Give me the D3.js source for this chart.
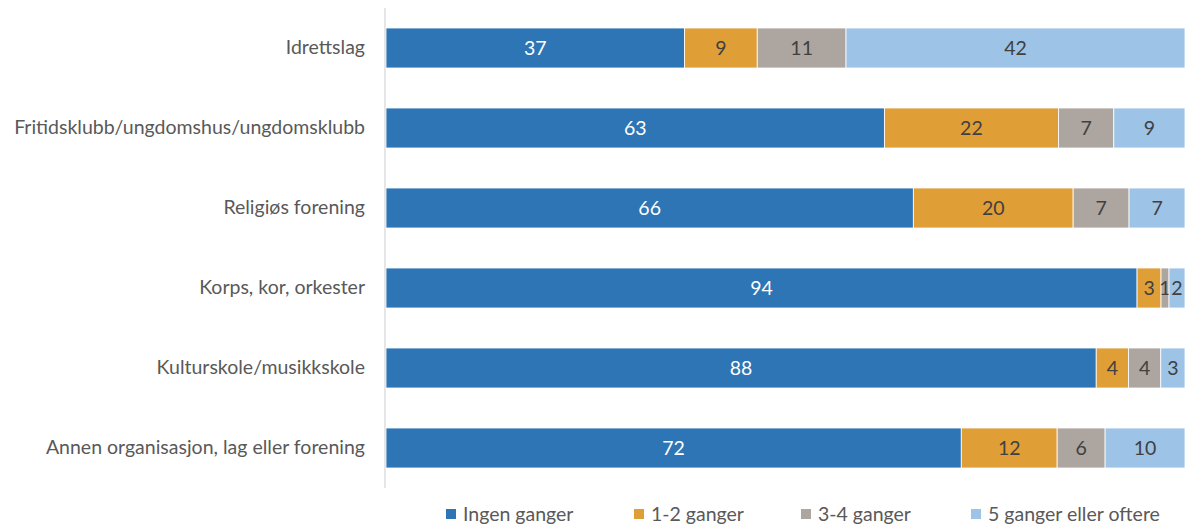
<!DOCTYPE html>
<html lang="no">
<head>
<meta charset="utf-8">
<title>Stacked bars</title>
<script src="https://d3js.org/d3.v7.min.js"></script>
<style>
  body { margin: 0; background: #fff; }
  text { font-family: Lato, "Open Sans", sans-serif; }
</style>
</head>
<body>
<div id="chart"></div>
<script>
// categories, top to bottom
var categories = [
  "Idrettslag",
  "Fritidsklubb/ungdomshus/ungdomsklubb",
  "Religiøs forening",
  "Korps, kor, orkester",
  "Kulturskole/musikkskole",
  "Annen organisasjon, lag eller forening"
]
var seriesNames = ["Ingen ganger", "1-2 ganger", "3-4 ganger", "5 ganger eller oftere"]
var ingen    = [37, 63, 66, 94, 88, 72]
var en_to    = [9, 22, 20, 3, 4, 12]
var tre_fire = [11, 7, 7, 1, 4, 6]
var fem      = [42, 9, 7, 2, 3, 10]
var colors = ["#2E75B6", "#E09F36", "#ADA59F", "#9DC3E6"]

var w = 1190, h = 527
var plotL = 386, plotR = 1185, plotT = 8, plotB = 488
var fs = 19.5

var rows = categories.map(function(c, i){
  return {cat: c, s0: ingen[i], s1: en_to[i], s2: tre_fire[i], s3: fem[i]}
})
var keys = ["s0", "s1", "s2", "s3"]
// 100% stacked, like the original
var stacked = d3.stack().keys(keys).offset(d3.stackOffsetExpand)(rows)

var x = d3.scaleLinear().domain([0, 1]).range([plotL, plotR])
var y = d3.scaleBand().domain(categories).range([plotT, plotB]).paddingInner(0.5).paddingOuter(0.25)

var svg = d3.select("#chart").append("svg").attr("width", w).attr("height", h)

var groups = svg.selectAll("g.series").data(stacked).enter().append("g")
  .attr("class", "series")
  .attr("fill", function(d, i){ return colors[i] })

groups.selectAll("rect").data(function(d){ return d }).enter().append("rect")
  .attr("x", function(d){ return x(d[0]) })
  .attr("y", function(d){ return y(d.data.cat) })
  .attr("width", function(d){ return x(d[1]) - x(d[0]) })
  .attr("height", y.bandwidth())
  .attr("stroke", "#fff")
  .attr("stroke-width", 0.8)

// value labels
groups.each(function(s, si){
  d3.select(this).selectAll("text").data(s).enter().append("text")
    .attr("x", function(d){ return (x(d[0]) + x(d[1])) / 2 })
    .attr("y", function(d){ return y(d.data.cat) + y.bandwidth() / 2 })
    .attr("dy", "0.35em")
    .attr("text-anchor", "middle")
    .attr("font-size", fs)
    .attr("fill", si == 0 ? "#fff" : "#404040")
    .text(function(d){ return d.data[s.key] })
})

// category axis
var yAxis = svg.append("g").attr("transform", "translate(" + (plotL - 1) + ",0)")
  .call(d3.axisLeft(y).tickSize(0).tickPadding(20))
yAxis.select(".domain").attr("stroke", "#d9d9d9").attr("stroke-width", 1.3)
  .attr("d", "M0," + plotT + "V" + plotB)
yAxis.selectAll("text").attr("font-size", fs).attr("fill", "#595959")
  .attr("font-family", "Lato, sans-serif")

// legend
var legX = [446, 634, 801, 971]
var leg = svg.selectAll("g.leg").data(seriesNames).enter().append("g")
  .attr("class", "leg")
  .attr("transform", function(d, i){ return "translate(" + legX[i] + ",514)" })
leg.append("rect").attr("x", 0).attr("y", -5).attr("width", 10).attr("height", 10)
  .attr("fill", function(d, i){ return colors[i] })
leg.append("text").attr("x", 17).attr("dy", "0.35em")
  .attr("font-size", fs).attr("fill", "#595959")
  .text(function(d){ return d })
</script>
</body>
</html>
